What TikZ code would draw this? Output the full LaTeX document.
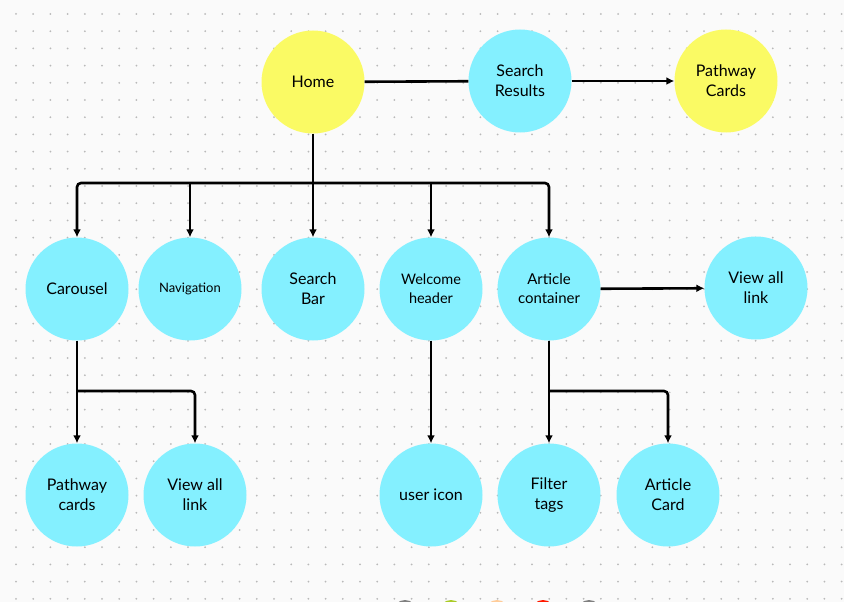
\documentclass[tikz,border=0pt]{standalone}
\usepackage{fontspec}
\setmainfont{Lato}
\usetikzlibrary{positioning}
\usetikzlibrary{arrows.meta}

\definecolor{sunny}{HTML}{FAFA64}
\definecolor{skyblue}{HTML}{84F0FF}
\definecolor{paper}{HTML}{FAFAFA}

\tikzset{
 bubble/.style={circle,minimum size=103pt,inner sep=0pt,align=center,
   font=\fontsize{16}{20}\selectfont},
 yel/.style={bubble,fill=sunny},
 blu/.style={bubble,fill=skyblue},
 wire/.style={line width=2.6pt,black},
 arr/.style={wire,-{Latex[length=8pt,width=8pt]}},
}

\begin{document}
\begin{tikzpicture}[x=1pt,y=-1pt]
 \clip (0,0) rectangle (844,602);
 \fill[paper] (0,0) rectangle (844,602);
 % dot grid
 \foreach \i in {0,...,48}
  \foreach \j in {0,...,34}
   \fill[gray!55] (16+17.2*\i,14+17.2*\j) circle (1pt);
 % palette circles at the bottom edge
 \fill[gray] (405,612) circle (12pt);
 \fill[yellow!70!green!90!black] (451,612) circle (12pt);
 \fill[orange!40] (497,612) circle (12pt);
 \fill[red!80!orange] (543,612) circle (12pt);
 \fill[gray] (589,612) circle (12pt);

 % top row
 \node[yel] (home) at (313,82) {Home};
 \node[blu] (results) at (520,81) {Search\\Results};
 \node[yel] (pathway) at (726,81) {Pathway\\Cards};
 % second row
 \node[blu] (carousel) at (77,289) {Carousel};
 \node[blu,font=\fontsize{13}{16}\selectfont] (nav) at (190,289) {Navigation};
 \node[blu] (searchbar) at (313,289) {Search\\Bar};
 \node[blu,font=\fontsize{14.5}{19}\selectfont] (welcome) at (431,289) {Welcome\\header};
 \node[blu,font=\fontsize{15}{19}\selectfont] (article) at (549,289) {Article\\container};
 \node[blu] (viewall) at (756,288) {View all\\link};
 % third row
 \node[blu] (pcards) at (77,495) {Pathway\\cards};
 \node[blu] (viewlink) at (195,495) {View all\\link};
 \node[blu] (usericon) at (431,495) {user icon};
 \node[blu] (filter) at (549,495) {Filter\\tags};
 \node[blu] (artcard) at (668,495) {Article\\Card};

 % connectors
 \coordinate (bus) at (313,183);
 \draw[wire] (home) -- (results);
 \draw[arr] (results) -- (pathway);
 \draw[wire] (home.south) -- (bus);
 \draw[arr,rounded corners=4pt] (bus) -| (carousel.north);
 \draw[arr,rounded corners=4pt] (bus) -| (article.north);
 \draw[arr] (nav.north |- bus) -- (nav.north);
 \draw[arr] (bus) -- (searchbar.north);
 \draw[arr] (welcome.north |- bus) -- (welcome.north);
 \draw[arr] (article) -- (viewall);

 \coordinate (cfork) at (77,391);
 \draw[arr] (carousel.south) -- (pcards.north);
 \draw[arr,rounded corners=4pt] (cfork) -| (viewlink.north);
 \draw[arr] (welcome.south) -- (usericon.north);
 \coordinate (afork) at (549,391);
 \draw[arr] (article.south) -- (filter.north);
 \draw[arr,rounded corners=4pt] (afork) -| (artcard.north);
\end{tikzpicture}
\end{document}
